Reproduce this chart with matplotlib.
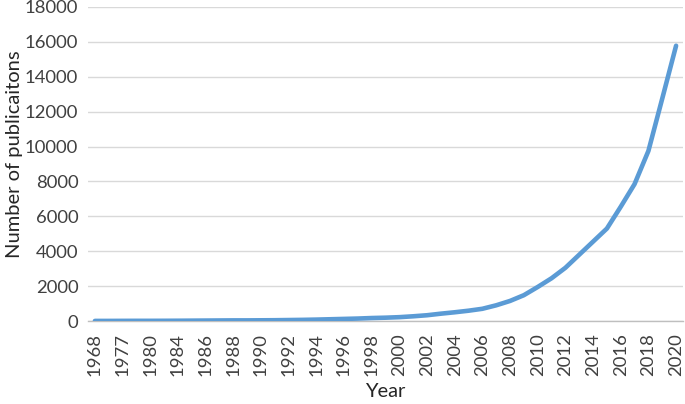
import matplotlib
matplotlib.use("Agg")
import matplotlib.pyplot as plt

years = ["1968", "1974", "1977", "1979", "1980", "1983", "1984", "1985",
         "1986", "1987", "1988", "1989", "1990", "1991", "1992", "1993",
         "1994", "1995", "1996", "1997", "1998", "1999", "2000", "2001",
         "2002", "2003", "2004", "2005", "2006", "2007", "2008", "2009",
         "2010", "2011", "2012", "2013", "2014", "2015", "2016", "2017",
         "2018", "2019", "2020"]
publications = [5, 5, 8, 10, 10, 12, 15, 20,
                25, 30, 35, 35, 40, 45, 55, 65,
                80, 100, 120, 140, 170, 190, 220, 270,
                330, 420, 500, 590, 700, 900, 1150, 1480,
                1950, 2450, 3050, 3800, 4550, 5300, 6550, 7850,
                9750, 12750, 15780]
y_ticks = list(range(0, 18001, 2000))

plt.rcParams['font.family'] = ['Lato', 'DejaVu Sans']

fig = plt.figure(figsize=(6.85, 4.04), dpi=100)
ax = fig.add_axes([88/685, 1-321/404, (683-88)/685, (321-7)/404])

x = list(range(len(years)))
ax.plot(x, publications, color="#5B9BD5", lw=3.3, solid_capstyle="round",
        solid_joinstyle="round", zorder=3)

ax.set_xlim(-0.5, len(years) - 0.5)
ax.set_ylim(0, 18000)
ax.set_yticks(y_ticks)
ax.set_yticklabels([str(v) for v in y_ticks], fontsize=13.3, color="#404040")
ax.set_xticks(x[::2])
ax.set_xticklabels(years[::2], rotation=90, fontsize=13.3, color="#404040")
ax.tick_params(axis="both", length=0)
ax.tick_params(axis="y", pad=7)
ax.tick_params(axis="x", pad=9)

ax.grid(axis="y", color="#d9d9d9", lw=1.0, zorder=0)
for s in ["top", "right", "left"]:
    ax.spines[s].set_visible(False)
ax.spines["bottom"].set_color("#bfbfbf")
ax.spines["bottom"].set_linewidth(1.0)

ax.set_xlabel("Year", fontsize=14.5, color="#262626", labelpad=5)
ax.set_ylabel("Number of publicaitons", fontsize=14.5, color="#262626")
ax.yaxis.set_label_coords(-(88 - 23) / 595, (321 - 154) / 314)

fig.savefig("out.png", dpi=100)
